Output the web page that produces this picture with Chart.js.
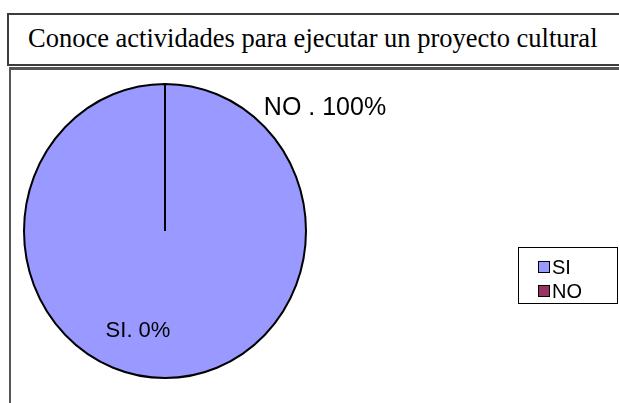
<!DOCTYPE html>
<html>
<head>
<meta charset="utf-8">
<script src="https://cdn.jsdelivr.net/npm/chart.js@4.4.0/dist/chart.umd.min.js"></script>
<style>
    body { margin: 0; width: 619px; height: 403px; overflow: hidden; background: #fff; position: relative; }
    #titleBox {
        position: absolute; left: 7px; top: 13px; width: 700px; height: 49px;
        border: 2px solid #3c3c3c; border-right: none;
        font-family: "Liberation Serif", "Times New Roman", serif; font-size: 26.5px;
        line-height: 47px; padding-left: 19px; color: #000; white-space: nowrap;
    }
    #chartBox {
        position: absolute; left: 9px; top: 67px; width: 700px; height: 400px;
        border-left: 2px solid #555; border-top: 3px solid #555;
    }
    #pie { position: absolute; left: 0; top: 0; }
    #legend {
        position: absolute; left: 518px; top: 247px; width: 98px; height: 48px;
        border: 1px solid #000; padding-top: 7px; box-sizing: content-box;
        font-family: "Liberation Sans", Arial, sans-serif; font-size: 20px; color: #000;
    }
    #legend .row { height: 24px; line-height: 24px; display: flex; align-items: center; padding-left: 19px; }
    #legend .sw { width: 10px; height: 10px; border: 1.5px solid #000; margin-right: 2px; }
</style>
</head>
<body>
<div id="titleBox">Conoce actividades para ejecutar un proyecto cultural</div>
<div id="chartBox"></div>
<canvas id="pie" width="619" height="403"></canvas>
<div id="legend"></div>

<script>
// datos del gráfico
const categories = ['SI', 'NO'];
const sliceValues = [100, 0];          // lo que se dibuja (todo el círculo azul)
const printedPct = [0, 100];           // porcentajes tal como aparecen en las etiquetas
const sliceColors = ['#9999FF', '#993366'];

// estira el círculo un poco en vertical (el original es una elipse)
const stretchPie = {
    id: 'stretchPie',
    beforeDatasetsDraw(chart, args, opts) {
        const arc = chart.getDatasetMeta(0).data[0];
        const ctx = chart.ctx;
        ctx.save();
        ctx.translate(arc.x, arc.y);
        ctx.scale(1, opts.ratio);
        ctx.translate(-arc.x, -arc.y);
    },
    afterDatasetsDraw(chart) {
        chart.ctx.restore();
    }
};

// etiquetas de cada porción
const sliceLabels = {
    id: 'sliceLabels',
    afterDatasetsDraw(chart, args, opts) {
        const ctx = chart.ctx;
        const ratio = chart.options.plugins.stretchPie.ratio;
        chart.getDatasetMeta(0).data.forEach((arc, i) => {
            const mid = (arc.startAngle + arc.endAngle) / 2;
            const r = arc.outerRadius * opts.radius[i];
            const x = arc.x + Math.cos(mid) * r + opts.shift[i][0];
            const y = arc.y + Math.sin(mid) * r * ratio + opts.shift[i][1];
            const sep = i === 0 ? '. ' : ' . ';
            ctx.save();
            ctx.font = opts.sizes[i] + 'px "Liberation Sans", Arial, sans-serif';
            ctx.fillStyle = '#000';
            ctx.textAlign = 'center';
            ctx.textBaseline = 'middle';
            ctx.fillText(categories[i] + sep + printedPct[i] + '%', x, y);
            ctx.restore();
        });
    }
};

// leyenda en HTML con borde
const htmlLegend = {
    id: 'htmlLegend',
    afterUpdate(chart) {
        const box = document.getElementById('legend');
        box.innerHTML = '';
        chart.options.plugins.legend.labels.generateLabels(chart).forEach(item => {
            const row = document.createElement('div');
            row.className = 'row';
            const sw = document.createElement('span');
            sw.className = 'sw';
            sw.style.background = item.fillStyle;
            const txt = document.createElement('span');
            txt.textContent = item.text;
            row.appendChild(sw);
            row.appendChild(txt);
            box.appendChild(row);
        });
    }
};

const ctx = document.getElementById('pie').getContext('2d');
new Chart(ctx, {
    type: 'pie',
    data: {
        labels: categories,
        datasets: [{
            data: sliceValues,
            backgroundColor: sliceColors,
            borderColor: '#000',
            borderWidth: 2
        }]
    },
    options: {
        responsive: false,
        animation: false,
        events: [],
        layout: {
            padding: { left: 23, right: 312, top: 89, bottom: 30 }
        },
        plugins: {
            legend: { display: false },
            tooltip: { enabled: false },
            stretchPie: { ratio: 1.043 },
            sliceLabels: {
                radius: [0.68, 1.0],
                shift: [[-27, 0], [160, 24]],
                sizes: [22, 25]
            }
        }
    },
    plugins: [stretchPie, sliceLabels, htmlLegend]
});
</script>
</body>
</html>
